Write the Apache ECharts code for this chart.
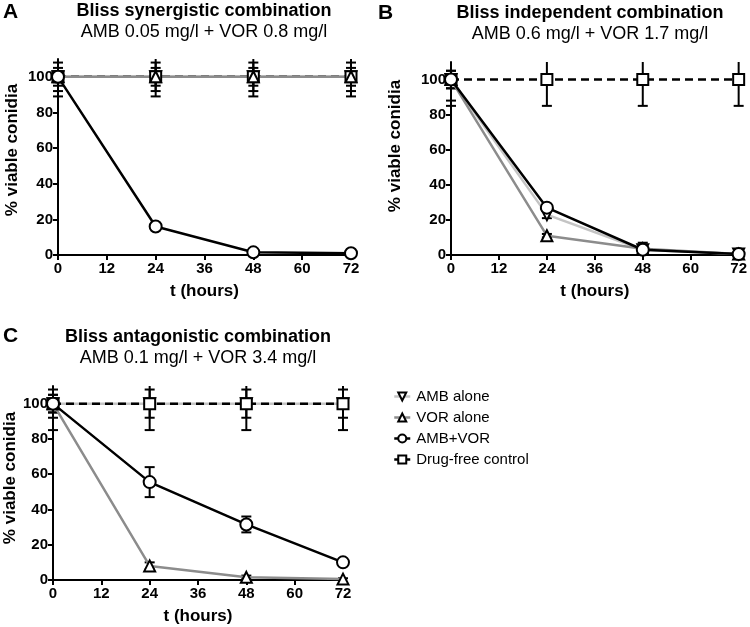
<!DOCTYPE html>
<html>
<head>
<meta charset="utf-8">
<script src="https://cdn.jsdelivr.net/npm/echarts@6/dist/echarts.min.js"></script>
<style>html,body{margin:0;padding:0;background:#fff}#c{width:750px;height:627px}</style>
</head>
<body>
<div id="c"></div>
<script>
// ---- data ----
const hours = [0, 24, 48, 72];
const yTickValues = [0, 20, 40, 60, 80, 100];
const seriesNames = ['AMB alone', 'VOR alone', 'AMB+VOR', 'Drug-free control'];
const panelTitles = ['Bliss synergistic combination', 'Bliss independent combination', 'Bliss antagonistic combination'];
const panelSubtitles = ['AMB 0.05 mg/l + VOR 0.8 mg/l', 'AMB 0.6 mg/l + VOR 1.7 mg/l', 'AMB 0.1 mg/l + VOR 3.4 mg/l'];
const panelLetters = ['A', 'B', 'C'];
const xAxisTitle = 't (hours)';
const yAxisTitle = '% viable conidia';

// Panel A
const aAmb = [100, 100, 100, 100];   const aAmbErr = [8, 8, 8, 8];
const aVor = [100, 100, 100, 100];   const aVorErr = [5, 5, 5, 5];
const aCombo = [100, 16, 1.5, 1];    const aComboErr = [3, 1, 0.5, 0.5];
const aCtrl = [100, 100, 100, 100];  const aCtrlErr = [11, 11, 11, 11];
// Panel B
const bAmb = [100, 23, 3, 0.5];      const bAmbErr = [12, 2, 1, 0.5];
const bVor = [100, 11, 3.5, 0.5];    const bVorErr = [5, 1, 1, 0.5];
const bCombo = [100, 27, 3, 0.5];    const bComboErr = [5, 2, 4, 1];
const bCtrl = [100, 100, 100, 100];  const bCtrlErr = [15, 15, 15, 15];
// Panel C
const cAmb = [100, 100, 100, 100];   const cAmbErr = [8, 8, 8, 8];
const cVor = [100, 8, 1.5, 0.5];     const cVorErr = [5, 2, 1, 0.5];
const cCombo = [100, 55.5, 31.5, 10];const cComboErr = [5, 8.5, 4.5, 1];
const cCtrl = [100, 100, 100, 100];  const cCtrlErr = [15, 15, 15, 15];

const panels = [
  { amb: aAmb, ambE: aAmbErr, vor: aVor, vorE: aVorErr, combo: aCombo, comboE: aComboErr, ctrl: aCtrl, ctrlE: aCtrlErr },
  { amb: bAmb, ambE: bAmbErr, vor: bVor, vorE: bVorErr, combo: bCombo, comboE: bComboErr, ctrl: bCtrl, ctrlE: bCtrlErr },
  { amb: cAmb, ambE: cAmbErr, vor: cVor, vorE: cVorErr, combo: cCombo, comboE: cComboErr, ctrl: cCtrl, ctrlE: cCtrlErr }
];

// ---- layout / style ----
const FONT = 'Liberation Sans, Arial, Helvetica, sans-serif';
const Y_MAX = 110;
const grids = [
  { left: 58, top: 59, width: 293, height: 196 },
  { left: 451, top: 62, width: 290, height: 193 },
  { left: 53, top: 386, width: 290, height: 194 }
];
const titlePos = [
  { x: 204, y: 2, lx: 3, ly: 2 },
  { x: 590, y: 4, lx: 378, ly: 3 },
  { x: 198, y: 328, lx: 3, ly: 326 }
];
const yNamePos = [[12, 150], [395, 146], [10, 478]];

const styles = {
  'AMB alone':        { color: '#c4c4c4', type: 'solid', symbol: 'triangle', rotate: 180, size: 11 },
  'VOR alone':        { color: '#8c8c8c', type: 'solid', symbol: 'triangle', rotate: 0, size: 11 },
  'AMB+VOR':          { color: '#000000', type: 'solid', symbol: 'circle', rotate: 0, size: 12 },
  'Drug-free control':{ color: '#000000', type: [8, 5], symbol: 'rect', rotate: 0, size: 11 }
};

function zipData(vals) { return hours.map((h, i) => [h, vals[i]]); }
function errData(vals, errs) { return hours.map((h, i) => [h, vals[i], errs[i]]); }

function errRender(params, api) {
  const x = api.value(0), y = api.value(1), e = api.value(2);
  const hi = y + e, lo = Math.max(y - e, 0);
  const topClipped = hi > Y_MAX;
  const t = api.coord([x, Math.min(hi, Y_MAX)]);
  const b = api.coord([x, lo]);
  const hw = 5;
  const st = { stroke: '#000', lineWidth: 2 };
  const children = [
    { type: 'line', shape: { x1: t[0], y1: t[1], x2: b[0], y2: b[1] }, style: st }
  ];
  if (!topClipped) children.push({ type: 'line', shape: { x1: t[0] - hw, y1: t[1], x2: t[0] + hw, y2: t[1] }, style: st });
  if (y - e > 0) children.push({ type: 'line', shape: { x1: b[0] - hw, y1: b[1], x2: b[0] + hw, y2: b[1] }, style: st });
  return { type: 'group', children: children };
}

const xAxes = [], yAxes = [], series = [], titles = [], graphics = [];
grids.forEach((g, gi) => {
  xAxes.push({
    type: 'value', gridIndex: gi, min: 0, max: 72, interval: 12,
    name: xAxisTitle, nameLocation: 'middle', nameGap: 28,
    nameTextStyle: { fontFamily: FONT, fontWeight: 'bold', fontSize: 17, color: '#000' },
    axisLine: { lineStyle: { color: '#000', width: 2 } },
    axisTick: { length: 5, lineStyle: { color: '#000', width: 2 } },
    axisLabel: { fontFamily: FONT, fontWeight: 'bold', fontSize: 15, color: '#000', margin: 6 },
    splitLine: { show: false }
  });
  yAxes.push({
    type: 'value', gridIndex: gi, min: 0, max: Y_MAX,
    axisLine: { show: true, lineStyle: { color: '#000', width: 2 } },
    axisTick: { show: true, length: 5, lineStyle: { color: '#000', width: 2 }, customValues: yTickValues },
    axisLabel: { fontFamily: FONT, fontWeight: 'bold', fontSize: 15, color: '#000', margin: 5, customValues: yTickValues },
    splitLine: { show: false }
  });
  graphics.push({
    type: 'text', x: yNamePos[gi][0], y: yNamePos[gi][1], rotation: Math.PI / 2,
    style: { text: yAxisTitle, fontFamily: FONT, fontWeight: 'bold', fontSize: 17, fill: '#000',
             align: 'center', verticalAlign: 'middle' }
  });
  const p = panels[gi];
  const order = [
    ['AMB alone', p.amb, p.ambE],
    ['Drug-free control', p.ctrl, p.ctrlE],
    ['VOR alone', p.vor, p.vorE],
    ['AMB+VOR', p.combo, p.comboE]
  ];
  order.forEach(([name, vals, errs]) => {
    series.push({
      type: 'custom', name: name + ' error', xAxisIndex: gi, yAxisIndex: gi,
      renderItem: errRender, data: errData(vals, errs), clip: false, z: 1, silent: true
    });
  });
  order.forEach(([name, vals]) => {
    const s = styles[name];
    series.push({
      type: 'line', name: name, xAxisIndex: gi, yAxisIndex: gi,
      data: zipData(vals),
      symbol: s.symbol, symbolSize: s.size, symbolRotate: s.rotate,
      showAllSymbol: true,
      lineStyle: { color: s.color, width: 2.5, type: s.type },
      itemStyle: { color: '#fff', borderColor: '#000', borderWidth: 2 },
      z: 3, animation: false
    });
  });
  const tp = titlePos[gi];
  titles.push({
    text: panelTitles[gi], subtext: panelSubtitles[gi],
    left: tp.x, top: tp.y, textAlign: 'center', itemGap: 3, padding: 0,
    textStyle: { fontFamily: FONT, fontWeight: 'bold', fontSize: 18, color: '#000' },
    subtextStyle: { fontFamily: FONT, fontSize: 18, color: '#000' }
  });
  titles.push({
    text: panelLetters[gi], left: tp.lx, top: tp.ly, padding: 0,
    textStyle: { fontFamily: FONT, fontWeight: 'bold', fontSize: 21, color: '#000' }
  });
});

const legendData = seriesNames.map(n => {
  const s = styles[n];
  return { name: n,
           itemStyle: { color: '#fff', borderColor: '#000', borderWidth: 2 },
           lineStyle: { color: s.color, width: 2.5, type: 'solid' } };
});

const chart = echarts.init(document.getElementById('c'), null, { renderer: 'canvas' });
chart.setOption({
  animation: false,
  backgroundColor: '#fff',
  title: titles,
  graphic: graphics,
  grid: grids.map(g => Object.assign({ containLabel: false }, g)),
  xAxis: xAxes,
  yAxis: yAxes,
  legend: {
    data: legendData, orient: 'vertical', left: 388, top: 384,
    itemWidth: 16, itemHeight: 10, itemGap: 6, symbolRotate: 'inherit',
    textStyle: { fontFamily: FONT, fontSize: 15, color: '#000', lineHeight: 15, padding: [0, 0, 0, 1] },
    selectedMode: false
  },
  series: series
});
</script>
</body>
</html>
